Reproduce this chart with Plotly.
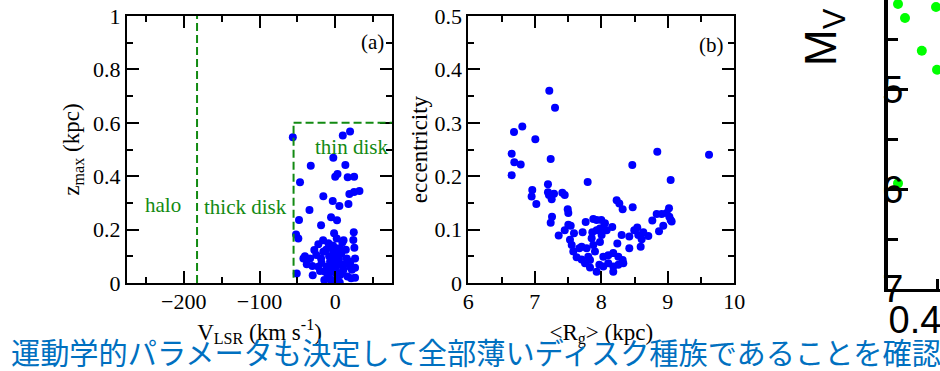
import plotly.graph_objects as go

# ---------------- data ----------------
# panel (a): V_LSR (km/s) vs z_max (kpc)
v_lsr = [-56, 10, 19.6, -2.5, -32.3, 13.4, 0, 3, 16.5, 25,
         -46.5, 32, 24.9, 18.7, -15.7, -3.3, 5.5, 17.5, -34, -5.5,
         2.4, -47.8, -18.7, -51.7, -48.7, 24.5, -1.5, 23.9, -22.3, -9,
         2, 9.4, 25.3, -27.6, -15.7, -42, -33.2, -37.6, -30.2, -18.7,
         -6.8, 4.1, 15.2, 26.2, 19.6, 26.2, -29.7, -50.8, -13.4, -4.6,
         0, 6.6, 16.2, 26.2, -9, -2.5, -11.2, 4.1, 10.8, -22.3,
         -4.6, 6.4, 2, -14.4, 21, -4.6, -8, -3, 1, 5,
         -6, 8, -12, 12, -1, 3, -10, 9, -18, 14,
         -25, -40, 20, -7, 6, 0, -3, 11, -16, 1,
         -20, 22, -1, 4]
z_max = [0.546, 0.552, 0.567, 0.469, 0.439, 0.442, 0.398, 0.408, 0.396, 0.398,
         0.377, 0.345, 0.341, 0.333, 0.325, 0.307, 0.288, 0.296, 0.273, 0.246,
         0.235, 0.236, 0.216, 0.182, 0.167, 0.190, 0.186, 0.161, 0.145, 0.149,
         0.167, 0.152, 0.132, 0.124, 0.117, 0.092, 0.092, 0.070, 0.064, 0.092,
         0.080, 0.099, 0.092, 0.092, 0.061, 0.057, 0.029, 0.036, 0.042, 0.049,
         0.011, 0.030, 0.024, 0.020, 0.024, 0.117, 0.061, 0.067, 0.049, 0.061,
         0.136, 0.130, 0.036, 0.011, 0.018, 0.005, 0.100, 0.085, 0.075, 0.090,
         0.055, 0.110, 0.125, 0.070, 0.040, 0.020, 0.035, 0.040, 0.075, 0.125,
         0.105, 0.100, 0.080, 0.015, 0.002, 0.055, 0.140, 0.160, 0.160, 0.130,
         0.045, 0.050, 0.100, 0.115]

# population boundaries in panel (a)
halo_thick_v = -182.5
thick_thin_v = -55
thin_zmax = 0.6

# panel (b): <R_g> (kpc) vs eccentricity
r_g = [7.218, 7.304, 6.812, 6.687, 7.008, 6.652, 7.239, 6.692, 6.788, 6.652,
       7.795, 7.198, 6.962, 6.952, 7.023, 7.198, 7.213, 7.289, 7.254, 7.414,
       7.450, 7.259, 7.239, 7.495, 7.504, 7.359, 7.450, 7.504, 7.540, 7.589,
       7.765, 7.719, 7.880, 7.529, 7.555, 7.579, 7.629, 7.704, 7.669, 7.804,
       7.830, 7.830, 7.930, 7.970, 7.880, 7.905, 7.980, 8.005, 7.930, 7.980,
       8.055, 8.080, 7.855, 8.030, 8.105, 8.180, 8.180, 8.180, 8.256, 8.256,
       8.321, 8.331, 8.231, 8.271, 8.321, 8.241, 8.306, 8.421, 8.421, 8.466,
       8.472, 8.496, 8.541, 8.556, 8.607, 8.592, 8.632, 8.707, 8.767, 8.842,
       8.833, 8.868, 8.932, 8.983, 9.018, 9.043, 9.043, 9.058, 9.620, 9.023,
       8.908, 8.165, 7.779, 7.704, 7.755, 8.105, 8.030, 7.865, 7.930, 8.000,
       8.030]
ecc = [0.360, 0.328, 0.293, 0.283, 0.269, 0.242, 0.232, 0.226, 0.222, 0.202,
       0.189, 0.185, 0.174, 0.162, 0.148, 0.170, 0.165, 0.167, 0.157, 0.169,
       0.165, 0.124, 0.113, 0.138, 0.131, 0.089, 0.099, 0.109, 0.107, 0.093,
       0.114, 0.095, 0.120, 0.081, 0.071, 0.059, 0.048, 0.044, 0.065, 0.049,
       0.043, 0.029, 0.021, 0.034, 0.071, 0.059, 0.077, 0.090, 0.099, 0.102,
       0.112, 0.099, 0.084, 0.049, 0.052, 0.056, 0.031, 0.021, 0.049, 0.034,
       0.043, 0.037, 0.155, 0.149, 0.138, 0.074, 0.090, 0.087, 0.065, 0.221,
       0.142, 0.099, 0.104, 0.090, 0.082, 0.068, 0.095, 0.088, 0.117, 0.246,
       0.129, 0.097, 0.107, 0.131, 0.140, 0.193, 0.118, 0.115, 0.240, 0.124,
       0.129, 0.105, 0.065, 0.068, 0.037, 0.037, 0.031, 0.095, 0.118, 0.118,
       0.104]

# partial right panel: colour vs M_V (cropped)
col_c = [0.4204, 0.498, 0.4347, 0.469, 0.500, 0.4204]
mv_c = [4.14, 4.17, 4.28, 4.61, 4.80, 5.94]

mv_ticks = [5, 6, 7]
col_ticks = [0.4, 0.5]
col_ticktext = ["0.4", " "]

caption = "運動学的パラメータも決定して全部薄いディスク種族であることを確認"

# ---------------- figure ----------------
W, H = 940, 371
serif = "Liberation Serif"
green = "#128a12"


def px(sx):
    return sx / W


def py(sy):
    return (H - sy) / H


fig = go.Figure()

fig.add_trace(go.Scatter(x=v_lsr, y=z_max, mode="markers", xaxis="x", yaxis="y",
                         marker=dict(color="#0000ff", size=8, line=dict(width=0)),
                         showlegend=False))
fig.add_trace(go.Scatter(x=r_g, y=ecc, mode="markers", xaxis="x2", yaxis="y2",
                         marker=dict(color="#0000ff", size=8, line=dict(width=0)),
                         showlegend=False))
fig.add_trace(go.Scatter(x=col_c, y=mv_c, mode="markers", xaxis="x3", yaxis="y3",
                         marker=dict(color="#00ff00", size=10, line=dict(width=0)),
                         cliponaxis=False, showlegend=False))

tickfont = dict(family=serif, size=22, color="black")
titlefont = dict(family=serif, size=23, color="black")

common = dict(showline=True, linecolor="black", linewidth=2, mirror="allticks",
              ticks="inside", ticklen=12, tickwidth=2, tickcolor="black",
              showgrid=False, zeroline=False, tickfont=tickfont, automargin=False,
              ticklabeloverflow="allow")

ya_dom = [py(283), py(16)]

fig.update_layout(
    width=W, height=H, template="none",
    margin=dict(l=0, r=0, t=0, b=0),
    paper_bgcolor="white", plot_bgcolor="white",
    xaxis=dict(domain=[px(127), px(392)], range=[-275, 75], anchor="y",
               tickvals=[-200, -100, 0], ticklabelstandoff=-2,
               minor=dict(dtick=50, tick0=0, ticks="inside", ticklen=6, tickwidth=2,
                          tickcolor="black", showgrid=False),
               title=dict(text="V<sub>LSR</sub> (km s<sup>-1</sup>)", font=titlefont, standoff=10),
               **common),
    yaxis=dict(domain=ya_dom, range=[0, 1], anchor="x", dtick=0.2,
               minor=dict(dtick=0.1, ticks="inside", ticklen=6, tickwidth=2,
                          tickcolor="black", showgrid=False),
               title=dict(text="z<sub>max</sub> (kpc)", font=titlefont, standoff=7),
               **common),
    xaxis2=dict(domain=[px(468.3), px(734.3)], range=[6, 10], anchor="y2", dtick=1,
                ticklabelstandoff=-2,
                minor=dict(dtick=0.5, ticks="inside", ticklen=6, tickwidth=2,
                           tickcolor="black", showgrid=False),
                title=dict(text="&lt;R<sub>g</sub>&gt; (kpc)", font=titlefont, standoff=10),
                **common),
    yaxis2=dict(domain=ya_dom, range=[0, 0.5], anchor="x2", dtick=0.1,
                minor=dict(dtick=0.05, ticks="inside", ticklen=6, tickwidth=2,
                           tickcolor="black", showgrid=False),
                title=dict(text="eccentricity", font=titlefont, standoff=0),
                **common),
    xaxis3=dict(domain=[px(888), 1], range=[0.4, 0.4 + (940 - 888) / 490], anchor="y3",
                tickvals=col_ticks, ticktext=col_ticktext,
                showline=True, linecolor="black", linewidth=3, mirror=False,
                ticks="inside", ticklen=10, tickwidth=3, tickcolor="black",
                showgrid=False, zeroline=False, automargin=False,
                ticklabelshift=27, ticklabelstandoff=-5, ticklabeloverflow="allow",
                tickfont=dict(family="Liberation Sans", size=38, color="black")),
    yaxis3=dict(domain=[py(289), 1], range=[7, 5 - 90 / 100], anchor="x3",
                tickvals=mv_ticks,
                minor=dict(dtick=0.5, tick0=0, ticks="inside", ticklen=10, tickwidth=3,
                           tickcolor="black", showgrid=False),
                showline=True, linecolor="black", linewidth=4, mirror=False,
                ticks="inside", ticklen=20, tickwidth=3, tickcolor="black",
                showgrid=False, zeroline=False, automargin=False,
                ticklabelstandoff=-27, ticklabeloverflow="allow",
                tickfont=dict(family="Liberation Sans", size=38, color="black")),
)

dash_line = dict(color=green, width=2, dash="8px,4px")
fig.add_shape(type="line", xref="x", yref="y", x0=halo_thick_v, x1=halo_thick_v,
              y0=0, y1=1, line=dash_line)
fig.add_shape(type="line", xref="x", yref="y", x0=thick_thin_v, x1=thick_thin_v,
              y0=0.02, y1=thin_zmax, line=dash_line)
fig.add_shape(type="line", xref="x", yref="y", x0=thick_thin_v, x1=75,
              y0=thin_zmax, y1=thin_zmax, line=dash_line)

labfont = dict(family=serif, size=21, color=green)
for txt, xv, yv in [("halo", -228, 0.294), ("thick disk", -118, 0.285), ("thin disk", 21.6, 0.511)]:
    fig.add_annotation(x=xv, y=yv, xref="x", yref="y", text=txt, showarrow=False,
                       font=labfont, xanchor="center", yanchor="middle")
fig.add_annotation(x=48.6, y=0.904, xref="x", yref="y", text="(a)", showarrow=False,
                   font=dict(family=serif, size=21, color="black"))
fig.add_annotation(x=9.66, y=0.446, xref="x2", yref="y2", text="(b)", showarrow=False,
                   font=dict(family=serif, size=21, color="black"))

# cropped M_V axis title
fig.add_annotation(x=px(824), y=py(37), xref="paper", yref="paper",
                   text="M<sub>V</sub>", showarrow=False, textangle=-90,
                   font=dict(family="Liberation Sans", size=44, color="black"),
                   xanchor="center", yanchor="middle")

# caption
fig.add_annotation(x=px(9), y=py(351), xref="paper", yref="paper", text=caption,
                   showarrow=False, xanchor="left", yanchor="middle",
                   font=dict(family="Noto Sans CJK JP", size=29.2, color="#0070c0"))

# remove the default 8px page margin so the figure sits at the window's top-left corner
fig.write_html("out.html", config={"displayModeBar": False},
               post_script="document.body.style.margin='0';document.body.style.overflow='hidden';")
